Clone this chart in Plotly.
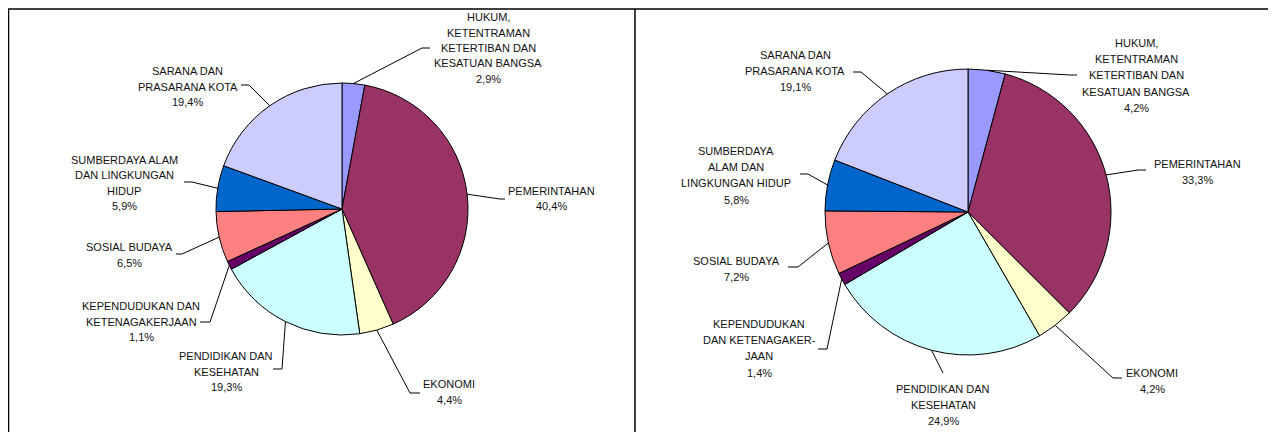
import math
import plotly.graph_objects as go

W, H = 1276, 432
OFF_X, OFF_Y = 8, 8  # page body margin in the browser

categories = [
    "HUKUM, KETENTRAMAN KETERTIBAN DAN KESATUAN BANGSA",
    "PEMERINTAHAN",
    "EKONOMI",
    "PENDIDIKAN DAN KESEHATAN",
    "KEPENDUDUKAN DAN KETENAGAKERJAAN",
    "SOSIAL BUDAYA",
    "SUMBERDAYA ALAM DAN LINGKUNGAN HIDUP",
    "SARANA DAN PRASARANA KOTA",
]
values_left = [2.9, 40.4, 4.4, 19.3, 1.1, 6.5, 5.9, 19.4]
values_right = [4.2, 33.3, 4.2, 24.9, 1.4, 7.2, 5.8, 19.1]

label_lines_left = [
    ["HUKUM,", "KETENTRAMAN", "KETERTIBAN DAN", "KESATUAN BANGSA"],
    ["PEMERINTAHAN"],
    ["EKONOMI"],
    ["PENDIDIKAN DAN", "KESEHATAN"],
    ["KEPENDUDUKAN DAN", "KETENAGAKERJAAN"],
    ["SOSIAL BUDAYA"],
    ["SUMBERDAYA ALAM", "DAN LINGKUNGAN", "HIDUP"],
    ["SARANA DAN", "PRASARANA KOTA"],
]
label_lines_right = [
    ["HUKUM,", "KETENTRAMAN", "KETERTIBAN DAN", "KESATUAN BANGSA"],
    ["PEMERINTAHAN"],
    ["EKONOMI"],
    ["PENDIDIKAN DAN", "KESEHATAN"],
    ["KEPENDUDUKAN", "DAN KETENAGAKER-", "JAAN"],
    ["SOSIAL BUDAYA"],
    ["SUMBERDAYA", "ALAM DAN", "LINGKUNGAN HIDUP"],
    ["SARANA DAN", "PRASARANA KOTA"],
]

colors = ["#9999FF", "#993366", "#FFFFCC", "#CCFFFF", "#660066", "#FF8080", "#0066CC", "#CCCCFF"]

# ---- layout (pixel geometry, in screenshot coordinates) ----
pies = [
    dict(values=values_left, lines=label_lines_left, cx=342, cy=209, r=126, dy=15.5,
         # text center x, first line y, elbow (x,y), horizontal end x (None = no horizontal)
         labels=[
             (488, 17, (422, 48), 430),
             (551, 191, (500, 199), 505),
             (449, 384, (410, 393), 420),
             (226, 356, (282, 369), 273),
             (141, 306, (210, 322), 200),
             (129, 247, (182, 254), 176),
             (124, 160, (192, 182), 184),
             (188, 71, (249, 85), 241),
         ]),
    dict(values=values_right, lines=label_lines_right, cx=968, cy=212, r=143, dy=16.2,
         labels=[
             (1136, 43, (1070, 75), 1077),
             (1197, 164, (1138, 170), 1146),
             (1152, 373, (1113, 378), 1122),
             (943, 389, (943, 373), None),
             (759, 324, (827, 349), 818),
             (736, 261, (798, 267), 788),
             (736, 151, (808, 174), 800),
             (795, 55, (861, 72), 853),
         ]),
]


def px(x):
    return (x - OFF_X) / W


def py(y):
    return 1 - (y - OFF_Y) / H


fig = go.Figure()
annotations = []
shapes = []
font = dict(family="Arial, Liberation Sans, sans-serif", size=11, color="#111111")

for p in pies:
    cx, cy, r = p["cx"], p["cy"], p["r"]
    fig.add_trace(go.Pie(
        labels=categories, values=p["values"], sort=False, direction="clockwise",
        rotation=0, textinfo="none", hoverinfo="label+percent",
        marker=dict(colors=colors, line=dict(color="#000000", width=1)),
        domain=dict(x=[px(cx - r), px(cx + r)], y=[py(cy + r), py(cy - r)]),
        showlegend=False,
    ))
    total = sum(p["values"])
    cum = 0.0
    for v, lines, (tx, ty, (ex, ey), hx) in zip(p["values"], p["lines"], p["labels"]):
        mid = (cum + v / 2) / total * 2 * math.pi
        cum += v
        ax_ = cx + r * math.sin(mid)
        ay_ = cy - r * math.cos(mid)
        pct = f"{v:.1f}".replace(".", ",") + "%"
        all_lines = lines + [pct]
        for i, t in enumerate(all_lines):
            annotations.append(dict(
                x=px(tx), y=py(ty + i * p["dy"]), xref="paper", yref="paper",
                text=t, showarrow=False, xanchor="center", yanchor="middle", font=font))
        path = f"M {px(ax_)} {py(ay_)} L {px(ex)} {py(ey)}"
        if hx is not None:
            path += f" L {px(hx)} {py(ey)}"
        shapes.append(dict(type="path", path=path, xref="paper", yref="paper",
                           line=dict(color="#000000", width=1)))

# panel borders
border = dict(color="#000000", width=1.5)
shapes.append(dict(type="line", xref="paper", yref="paper", x0=px(8), x1=px(1272), y0=py(9), y1=py(9), line=border))
for xb in (8.5, 635, 1272):
    shapes.append(dict(type="line", xref="paper", yref="paper", x0=px(xb), x1=px(xb), y0=py(9), y1=py(445), line=border))

fig.update_layout(
    width=W, height=H, margin=dict(l=0, r=0, t=0, b=0),
    paper_bgcolor="white", plot_bgcolor="white",
    annotations=annotations, shapes=shapes,
)

fig.write_html("out.html")
